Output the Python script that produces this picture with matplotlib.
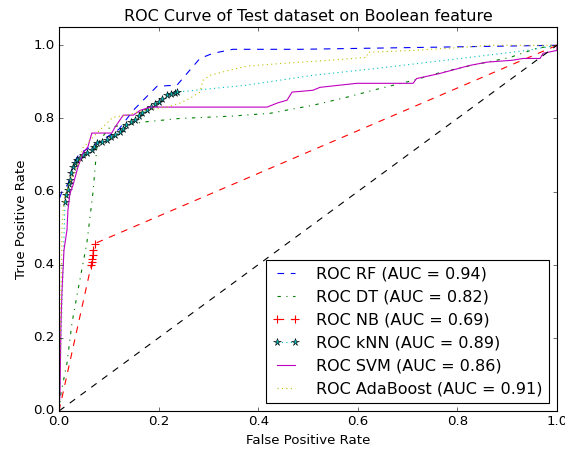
import numpy as np
import matplotlib
matplotlib.use("Agg")
import matplotlib.pyplot as plt

# ROC points
fpr_rf = [0.0, 0.0, 0.002, 0.006, 0.018, 0.03, 0.042, 0.08, 0.12, 0.149, 0.175, 0.197,
          0.237, 0.257, 0.283, 0.309, 0.349, 0.484, 0.765, 1.0]
tpr_rf = [0.0, 0.53, 0.585, 0.60, 0.62, 0.68, 0.705, 0.735, 0.77, 0.822, 0.858, 0.888,
          0.891, 0.923, 0.964, 0.978, 0.989, 0.989, 0.995, 1.0]

fpr_dt = [0.0, 0.004, 0.016, 0.026, 0.038, 0.056, 0.068, 0.076, 0.082, 0.102, 0.169, 0.243,
          0.343, 0.424, 0.478, 0.51, 0.578, 0.639, 0.711, 0.759, 0.811, 0.906, 0.96, 1.0]
tpr_dt = [0.0, 0.049, 0.131, 0.24, 0.33, 0.46, 0.595, 0.72, 0.74, 0.776, 0.79, 0.80,
          0.806, 0.814, 0.828, 0.836, 0.858, 0.88, 0.904, 0.923, 0.94, 0.967, 0.992, 1.0]

fpr_nb = [0.0, 0.065, 0.066, 0.067, 0.068, 0.069, 0.072, 1.0]
tpr_nb = [0.0, 0.400, 0.408, 0.415, 0.426, 0.44, 0.458, 1.0]

fpr_knn = [0.0, 0.012, 0.015, 0.018, 0.02, 0.022, 0.025, 0.028, 0.032, 0.036, 0.042, 0.048,
           0.056, 0.066, 0.07, 0.076, 0.086, 0.096, 0.104, 0.112, 0.122, 0.128, 0.135, 0.145,
           0.153, 0.16, 0.167, 0.177, 0.185, 0.193, 0.2, 0.207, 0.217, 0.225, 0.232, 0.237,
           0.377, 0.51, 0.639, 0.825, 0.94, 1.0]
tpr_knn = [0.0, 0.571, 0.59, 0.604, 0.62, 0.631, 0.65, 0.667, 0.678, 0.686, 0.693, 0.70,
           0.706, 0.713, 0.722, 0.732, 0.736, 0.74, 0.748, 0.754, 0.762, 0.772, 0.781, 0.79,
           0.797, 0.806, 0.815, 0.822, 0.832, 0.84, 0.845, 0.852, 0.863, 0.866, 0.87, 0.872,
           0.891, 0.918, 0.937, 0.967, 0.986, 1.0]

fpr_svm = [0.0, 0.002, 0.004, 0.006, 0.01, 0.016, 0.018, 0.022, 0.028, 0.038, 0.048, 0.058,
           0.066, 0.106, 0.112, 0.129, 0.149, 0.163, 0.183, 0.418, 0.438, 0.458, 0.468, 0.51,
           0.524, 0.564, 0.598, 0.711, 0.718, 0.765, 0.825, 0.86, 0.91, 0.932, 0.966, 0.972,
           1.0, 1.0]
tpr_svm = [0.0, 0.05, 0.24, 0.33, 0.44, 0.495, 0.55, 0.595, 0.617, 0.667, 0.705, 0.722,
           0.76, 0.76, 0.775, 0.809, 0.809, 0.822, 0.831, 0.831, 0.842, 0.85, 0.872, 0.877,
           0.885, 0.891, 0.896, 0.896, 0.909, 0.923, 0.945, 0.954, 0.959, 0.964, 0.964, 0.978,
           0.986, 1.0]

fpr_ada = [0.0, 0.004, 0.006, 0.01, 0.026, 0.042, 0.048, 0.076, 0.096, 0.108, 0.137, 0.169,
           0.217, 0.243, 0.263, 0.283, 0.289, 0.303, 0.343, 0.377, 0.444, 0.544, 0.618, 0.62,
           0.711, 0.819, 0.86, 1.0]
tpr_ada = [0.0, 0.3, 0.5, 0.58, 0.64, 0.686, 0.72, 0.76, 0.787, 0.803, 0.809, 0.822,
           0.831, 0.842, 0.855, 0.872, 0.904, 0.918, 0.932, 0.943, 0.95, 0.959, 0.967, 0.981,
           0.986, 0.995, 1.0, 1.0]

auc = {"RF": 0.94, "DT": 0.82, "NB": 0.69, "kNN": 0.89, "SVM": 0.86, "AdaBoost": 0.91}

plt.style.use("classic")
fig = plt.figure(figsize=(565 / 80, 452 / 80), dpi=80)
ax = fig.add_axes([59 / 565, 41 / 452, 498 / 565, 384 / 452])

ax.plot(fpr_rf, tpr_rf, "b--", label="ROC RF (AUC = %0.2f)" % auc["RF"])
ax.plot(fpr_dt, tpr_dt, "g-.", label="ROC DT (AUC = %0.2f)" % auc["DT"])
ax.plot(fpr_nb, tpr_nb, "r+--", markersize=7, markeredgewidth=1,
        label="ROC NB (AUC = %0.2f)" % auc["NB"])
ax.plot(fpr_knn, tpr_knn, "c*:", markersize=7, markeredgecolor="k", markevery=slice(1, 36),
        label="ROC kNN (AUC = %0.2f)" % auc["kNN"])
ax.plot(fpr_svm, tpr_svm, "m-", label="ROC SVM (AUC = %0.2f)" % auc["SVM"])
ax.plot(fpr_ada, tpr_ada, "y:", label="ROC AdaBoost (AUC = %0.2f)" % auc["AdaBoost"])
ax.plot([0, 1], [0, 1], "k--")

ax.set_xlim(0.0, 1.0)
ax.set_ylim(0.0, 1.05)
ax.set_xlabel("False Positive Rate")
ax.set_ylabel("True Positive Rate")
ax.set_title("ROC Curve of Test dataset on Boolean feature")
ax.legend(loc="lower right", handlelength=1.7, handletextpad=1.05)

fig.savefig("out.png", dpi=80)
